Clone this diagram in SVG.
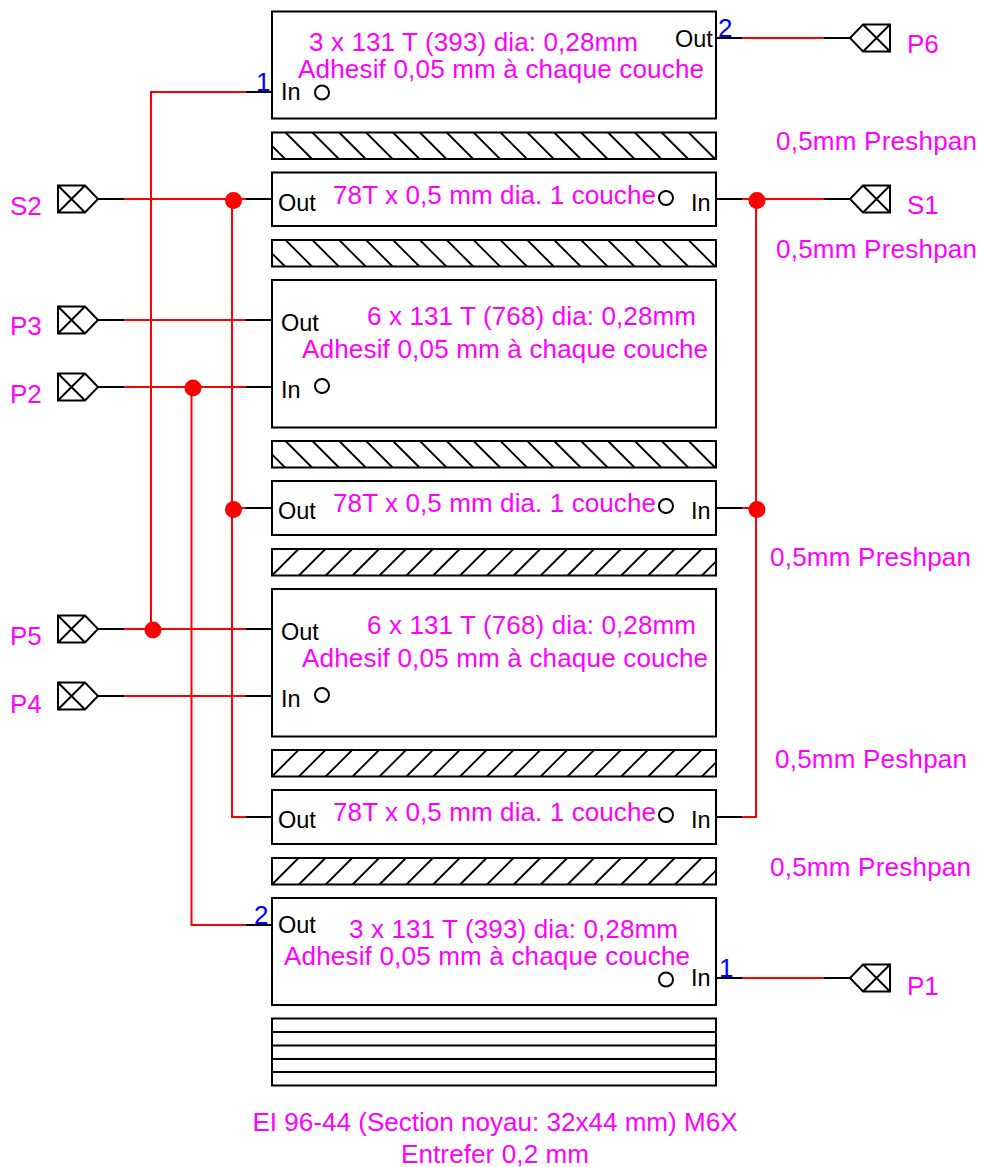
<svg xmlns="http://www.w3.org/2000/svg" width="981" height="1167" viewBox="0 0 981 1167">
<style>
text{font-family:"Liberation Sans",Arial,sans-serif}
.m{font-size:26px;fill:#ff00ff}
.k{font-size:23.500px;fill:#000}
.b{font-size:26px;fill:#0000ff}
.box{fill:#fff;stroke:#000;stroke-width:2}
.thin{fill:none;stroke:#000;stroke-width:2}
.hat{fill:none;stroke:#000;stroke-width:1.800}
.r{fill:none;stroke:#ff0000;stroke-width:2}
.dot{fill:#ff0000}
.c{fill:none;stroke:#000;stroke-width:2}
</style>
<defs>
<path id="hb" class="hat" d="M0,13.4L13.1,26.5M13.5,0L40,26.5M40.4,0L66.9,26.5M67.2,0L93.7,26.5M94.1,0L120.6,26.5M121,0L147.5,26.5M147.9,0L174.4,26.5M174.7,0L201.2,26.5M201.6,0L228.1,26.5M228.5,0L255,26.5M255.3,0L281.8,26.5M282.2,0L308.7,26.5M309.1,0L335.6,26.5M336,0L362.5,26.5M362.8,0L389.3,26.5M389.7,0L416.2,26.5M416.6,0L443.1,26.5"/>
<path id="hf" class="hat" d="M0,26.5L26.5,0M26.9,26.5L53.4,0M53.7,26.5L80.2,0M80.6,26.5L107.1,0M107.5,26.5L134,0M134.4,26.5L160.9,0M161.2,26.5L187.7,0M188.1,26.5L214.6,0M215,26.5L241.5,0M241.8,26.5L268.3,0M268.7,26.5L295.2,0M295.6,26.5L322.1,0M322.4,26.5L348.9,0M349.3,26.5L375.8,0M376.2,26.5L402.7,0M403.1,26.5L429.6,0M429.9,26.5L444,12.4"/>
<path id="tl" class="thin" d="M58,-13.5H85L98,0L85,13.5H58ZM58,-13.5L85,13.5M58,13.5L85,-13.5"/>
<path id="tr" class="thin" d="M890,-13.5H863L850,0L863,13.5H890ZM890,-13.5L863,13.5M890,13.5L863,-13.5"/>
<circle id="o" class="c" r="7"/>
</defs>

<g id="connectors">
<path class="c" d="M246,92H272M716,38H742M824,38H850M98,199H124M246,199H272M716,199H742M824,199H850M98,320H124M246,320H272M98,387H124M246,387H272M246,508H272M716,508H742M98,629H124M246,629H272M98,696H124M246,696H272M246,817H272M716,817H742M246,925H272M716,978H742M824,978H850"/>
<path class="r" d="M246,92H151V629M742,38H824M124,199H246M742,199H824M124,320H246M124,387H246M232,508H246M742,508H756M124,629H246M124,696H246M246,817H232V199M742,817H756V199M246,925H191.500V387M742,978H824"/>
<circle class="dot" cx="233.500" cy="200.500" r="8.500"/>
<circle class="dot" cx="757" cy="200.500" r="8.500"/>
<circle class="dot" cx="193" cy="388" r="8.500"/>
<circle class="dot" cx="233.500" cy="509.500" r="8.500"/>
<circle class="dot" cx="757" cy="509.500" r="8.500"/>
<circle class="dot" cx="153" cy="630" r="8.500"/>
</g>

<g id="winding-p6-1">
<rect class="box" x="272" y="11.500" width="444" height="107"/>
<text class="m" x="309" y="51" textLength="329">3 x 131 T (393) dia: 0,28mm</text>
<text class="m" x="298" y="78" textLength="406">Adhesif 0,05 mm à chaque couche</text>
<text class="k" x="675" y="47">Out</text><text class="k" x="281" y="100">In</text>
<use href="#o" x="322" y="92.500"/>
<text class="b" x="256" y="91">1</text><text class="b" x="718" y="37">2</text>
</g>
<g id="hatch-1"><rect class="box" x="272" y="132.500" width="444" height="26.500"/><use href="#hb" x="272" y="132.500"/></g>
<g id="winding-s-1">
<rect class="box" x="272" y="172.500" width="444" height="53.500"/>
<text class="k" x="278" y="211">Out</text><text class="k" x="691" y="211">In</text>
<text class="m" x="333" y="204" textLength="323">78T x 0,5 mm dia. 1 couche</text>
<use href="#o" x="666" y="198"/>
</g>
<g id="hatch-2"><rect class="box" x="272" y="240" width="444" height="26.500"/><use href="#hb" x="272" y="240"/></g>
<g id="winding-p3">
<rect class="box" x="272" y="280" width="444" height="147.500"/>
<text class="k" x="281" y="331">Out</text><text class="k" x="281" y="398">In</text>
<text class="m" x="367" y="325" textLength="329">6 x 131 T (768) dia: 0,28mm</text>
<text class="m" x="302" y="358" textLength="406">Adhesif 0,05 mm à chaque couche</text>
<use href="#o" x="322" y="386"/>
</g>
<g id="hatch-3"><rect class="box" x="272" y="441" width="444" height="26.500"/><use href="#hb" x="272" y="441"/></g>
<g id="winding-s-2">
<rect class="box" x="272" y="481" width="444" height="54"/>
<text class="k" x="278" y="519">Out</text><text class="k" x="691" y="519">In</text>
<text class="m" x="333" y="512" textLength="323">78T x 0,5 mm dia. 1 couche</text>
<use href="#o" x="666" y="506"/>
</g>
<g id="hatch-4"><rect class="box" x="272" y="549" width="444" height="26.500"/><use href="#hf" x="272" y="549"/></g>
<g id="winding-p5">
<rect class="box" x="272" y="589" width="444" height="147.500"/>
<text class="k" x="281" y="640">Out</text><text class="k" x="281" y="707">In</text>
<text class="m" x="367" y="634" textLength="329">6 x 131 T (768) dia: 0,28mm</text>
<text class="m" x="302" y="667" textLength="406">Adhesif 0,05 mm à chaque couche</text>
<use href="#o" x="322" y="695"/>
</g>
<g id="hatch-5"><rect class="box" x="272" y="750" width="444" height="26.500"/><use href="#hf" x="272" y="750"/></g>
<g id="winding-s-3">
<rect class="box" x="272" y="790" width="444" height="54"/>
<text class="k" x="278" y="828">Out</text><text class="k" x="691" y="828">In</text>
<text class="m" x="333" y="821" textLength="323">78T x 0,5 mm dia. 1 couche</text>
<use href="#o" x="666" y="815"/>
</g>
<g id="hatch-6"><rect class="box" x="272" y="858" width="444" height="26.500"/><use href="#hf" x="272" y="858"/></g>
<g id="winding-p1">
<rect class="box" x="272" y="898" width="444" height="107"/>
<text class="k" x="278" y="933">Out</text><text class="k" x="691" y="986">In</text>
<text class="m" x="349" y="938" textLength="329">3 x 131 T (393) dia: 0,28mm</text>
<text class="m" x="284" y="965" textLength="406">Adhesif 0,05 mm à chaque couche</text>
<use href="#o" x="666" y="979.500"/>
<text class="b" x="254" y="924">2</text><text class="b" x="719" y="977">1</text>
</g>
<g id="core">
<rect class="box" x="272" y="1018.500" width="444" height="67"/>
<path class="thin" d="M272,1032H716M272,1045.500H716M272,1059H716M272,1072H716"/>
</g>

<g id="term-s2"><use href="#tl" y="199"/><text class="m" x="10" y="215">S2</text></g>
<g id="term-p3"><use href="#tl" y="320"/><text class="m" x="10" y="335">P3</text></g>
<g id="term-p2"><use href="#tl" y="387"/><text class="m" x="10" y="403">P2</text></g>
<g id="term-p5"><use href="#tl" y="629"/><text class="m" x="10" y="645">P5</text></g>
<g id="term-p4"><use href="#tl" y="696"/><text class="m" x="10" y="713">P4</text></g>
<g id="term-p6"><use href="#tr" y="38"/><text class="m" x="907" y="53">P6</text></g>
<g id="term-s1"><use href="#tr" y="199"/><text class="m" x="907" y="214">S1</text></g>
<g id="term-p1"><use href="#tr" y="978"/><text class="m" x="907" y="995">P1</text></g>

<g id="labels">
<text class="m" x="776" y="150" textLength="201">0,5mm Preshpan</text>
<text class="m" x="776" y="258" textLength="201">0,5mm Preshpan</text>
<text class="m" x="770" y="566" textLength="201">0,5mm Preshpan</text>
<text class="m" x="775" y="768" textLength="192">0,5mm Peshpan</text>
<text class="m" x="770" y="876" textLength="201">0,5mm Preshpan</text>
<text class="m" x="495" y="1131" text-anchor="middle" textLength="485">EI 96-44 (Section noyau: 32x44 mm) M6X</text>
<text class="m" x="495" y="1163" text-anchor="middle" textLength="188">Entrefer 0,2 mm</text>
</g>
</svg>
